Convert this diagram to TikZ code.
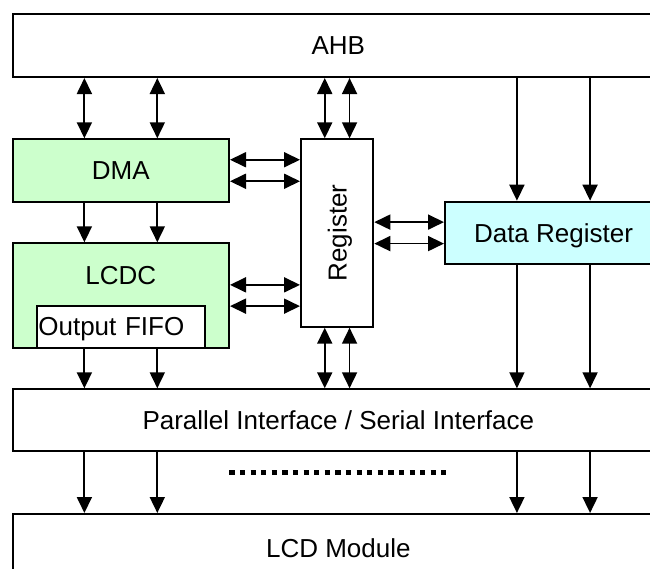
\documentclass[tikz,border=0pt]{standalone}
\usepackage{fontspec}
\setmainfont{Liberation Sans}
\usepackage{xcolor}
\definecolor{lcdgreen}{RGB}{204,255,204}
\definecolor{lcdcyan}{RGB}{204,255,255}
\usetikzlibrary{arrows.meta, calc}

\tikzset{
  blk/.style={draw, line width=2pt, inner sep=0pt, text depth=0pt,
              font=\fontsize{26}{31}\selectfont},
  txt/.style={inner sep=0pt, text depth=0pt, font=\fontsize{26}{31}\selectfont},
  arr/.style={-{Triangle[length=16pt, width=15pt]}, line width=1.8pt},
  dblarr/.style={{Triangle[length=16pt, width=15pt]}-{Triangle[length=16pt, width=15pt]}, line width=1.8pt},
}

\begin{document}
\begin{tikzpicture}[x=1pt, y=-1pt]
\useasboundingbox (0,0) rectangle (650,568);
\clip (0,0) rectangle (650,568);

% --- AHB bus ---
\node[blk, minimum width=651.3pt, minimum height=62.7pt] (ahb) at (338.35,45.65) {AHB};

% --- DMA and LCDC ---
\node[blk, fill=lcdgreen, minimum width=216.3pt, minimum height=62.4pt] (dma) at (120.85,170.5) {DMA};
\node[blk, fill=lcdgreen, minimum width=216.3pt, minimum height=104.4pt] (lcdc) at (120.85,295.5) {};
\node[txt] (lcdclabel) at (120.85,275.5) {LCDC};
\node[blk, fill=white, minimum width=168.3pt, minimum height=42pt, inner xsep=1.6pt,
      text width=165pt, align=left] (fifo) at (120.85,326.7) {Output FIFO};

% --- Register ---
\node[blk, minimum width=72.3pt, minimum height=187.4pt] (reg) at (337.15,233) {};
\node[txt, rotate=90] (reglabel) at (reg) {Register};

% --- Data Register ---
\node[blk, fill=lcdcyan, minimum width=217pt, minimum height=62.3pt] (dreg) at (553.5,232.85) {Data Register};

% --- Interface and LCD module ---
\node[blk, minimum width=651.3pt, minimum height=61.7pt] (par) at (338.35,420.15) {Parallel Interface / Serial Interface};
\node[blk, minimum width=651.3pt, minimum height=68pt] (lcd) at (338.35,548) {LCD Module};

% DMA column
\foreach \f in {0.333,0.667} {
  \coordinate (p) at ($(dma.north west)!\f!(dma.north east)$);
  \draw[dblarr] (p |- ahb.south) -- (p);
  \draw[arr] (p |- dma.south) -- (p |- lcdc.north);
  \draw[arr] (p |- lcdc.south) -- (p |- par.north);
  \draw[arr] (p |- par.south) -- (p |- lcd.north);
}

% Register column
\foreach \f in {0.333,0.667} {
  \coordinate (q) at ($(reg.north west)!\f!(reg.north east)$);
  \draw[dblarr] (q |- ahb.south) -- (q);
  \draw[dblarr] (q |- reg.south) -- (q |- par.north);
}

% Data Register column
\foreach \f in {0.333,0.667} {
  \coordinate (r) at ($(dreg.north west)!\f!(dreg.north east)$);
  \draw[arr] (r |- ahb.south) -- (r);
  \draw[arr] (r |- dreg.south) -- (r |- par.north);
  \draw[arr] (r |- par.south) -- (r |- lcd.north);
}

% Register links
\foreach \f in {0.333,0.667} {
  \coordinate (h) at ($(dma.north east)!\f!(dma.south east)$);
  \draw[dblarr] (h) -- (h -| reg.west);
  \coordinate (k) at ($(dreg.north west)!\f!(dreg.south west)$);
  \draw[dblarr] (k -| reg.east) -- (k);
}
\foreach \f in {0.4,0.6} {
  \coordinate (h) at ($(lcdc.north east)!\f!(lcdc.south east)$);
  \draw[dblarr] (h) -- (h -| reg.west);
}

% Dots between interface lines
\draw[line width=5.3pt, dash pattern=on 5.3pt off 5.3pt] (229.3,472.7) -- (446,472.7);

\end{tikzpicture}
\end{document}
